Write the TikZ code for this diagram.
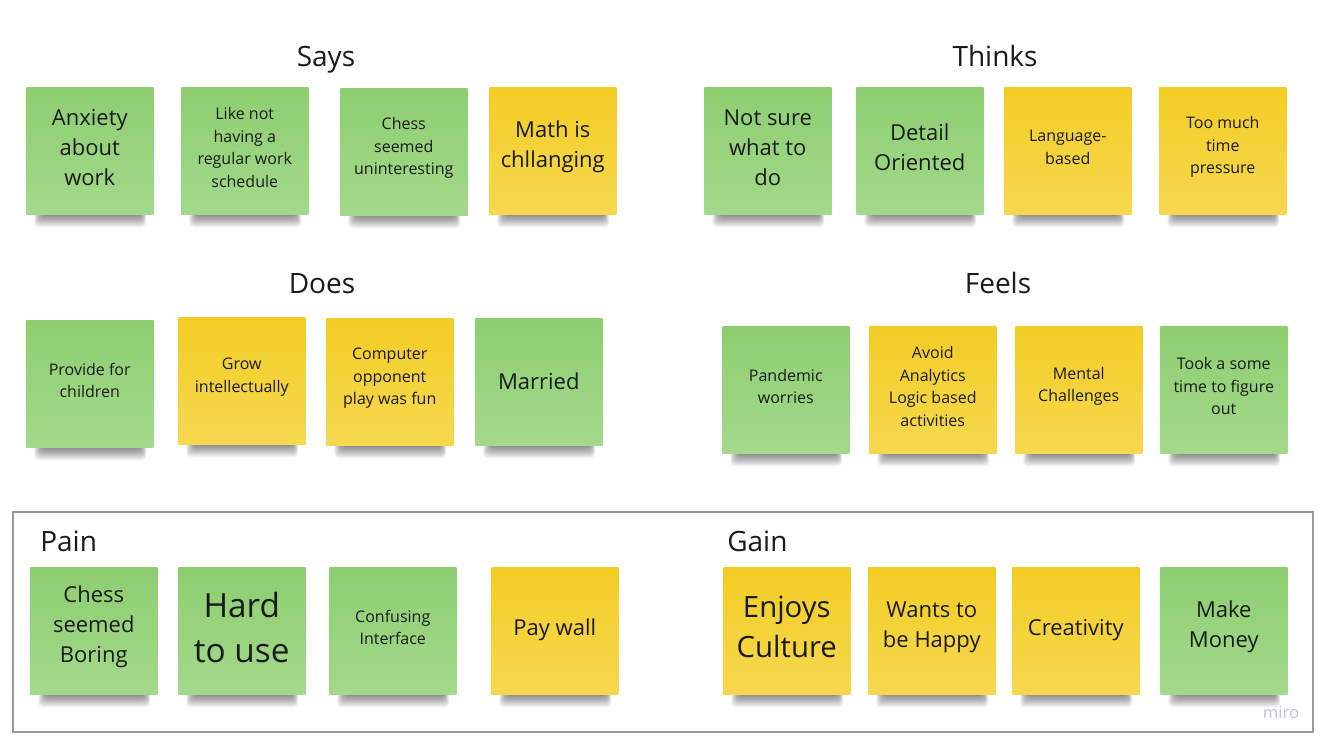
\documentclass[tikz,border=0pt]{standalone}
\usepackage{fontspec}
\setmainfont{Open Sans}
\usetikzlibrary{calc}

\definecolor{gtop}{HTML}{8DCE70}
\definecolor{gbot}{HTML}{A3D98B}
\definecolor{ytop}{HTML}{F3CD24}
\definecolor{ybot}{HTML}{F6D84F}
\definecolor{inkc}{HTML}{1A1A1A}
\definecolor{framec}{HTML}{9A9A9A}
\definecolor{miroc}{HTML}{C2C2D2}

\tikzset{
  note/.style={rectangle, minimum width=95.25pt, minimum height=95.25pt,
    inner sep=0pt, anchor=north west},
  greennote/.style={note, top color=gtop, bottom color=gbot},
  yellownote/.style={note, top color=ytop, bottom color=ybot},
  notetext/.style={inner sep=0pt, align=center, text=inkc},
  smalltxt/.style={font=\fontsize{12}{16.9}\selectfont},
  bigtxt/.style={font=\fontsize{16.5}{22.5}\selectfont},
  largetxt/.style={font=\fontsize{22}{30}\selectfont},
  hugetxt/.style={font=\fontsize{25}{34}\selectfont},
  header/.style={font=\fontsize{21}{25}\selectfont, text=inkc, inner sep=0pt, anchor=base},
}

% sticky note with a soft shadow under its lower edge
% #1 name, #2 x, #3 y (top left, px), #4 colour style, #5 text size style, #6 text
% #7 vertical nudge of the text (px)
\newcommand\sticky[7][-3.5]{%
  \foreach \k in {0,...,13}{%
    \fill[black, opacity=0.04, rounded corners=3pt]
      ({#3+16-0.6*\k},{#4+118}) rectangle ({#3+115+0.4*\k},{#4+128+0.95*\k});
  }%
  \node[#5] (#2) at (#3,#4) {};
  \node[notetext, #6] (#2-text) at ($(#2.center)+(0,#1)$) {#7};
}

\begin{document}
\begin{tikzpicture}[x=0.75pt, y=-0.75pt]
\useasboundingbox[fill=white] (0,0) rectangle (1333,749);

% group frame around pains and gains
\draw[framec, line width=1.1pt] (13,512) rectangle (1313,732);

% headings
\node[header] (says)   at (326,66)  {Says};
\node[header] (thinks) at (995,66)  {Thinks};
\node[header] (does)   at (322,293) {Does};
\node[header] (feels)  at (998,293) {Feels};
\node[header, anchor=base west] (pain) at (40,551)  {Pain};
\node[header, anchor=base west] (gain) at (727,551) {Gain};

% Says
\sticky{s1}{26}{87}{greennote}{bigtxt}{Anxiety\\about\\work}
\sticky{s2}{181}{87}{greennote}{smalltxt}{Like not\\having a\\regular work\\schedule}
\sticky{s3}{340}{88}{greennote}{smalltxt}{Chess\\seemed\\uninteresting}
\sticky{s4}{489}{87}{yellownote}{bigtxt}{Math is\\chllanging}

% Thinks
\sticky{t1}{704}{87}{greennote}{bigtxt}{Not sure\\what to\\do}
\sticky{t2}{856}{87}{greennote}{bigtxt}{Detail\\Oriented}
\sticky{t3}{1004}{87}{yellownote}{smalltxt}{Language-\\based}
\sticky{t4}{1159}{87}{yellownote}{smalltxt}{Too much\\time\\pressure}

% Does
\sticky{d1}{26}{320}{greennote}{smalltxt}{Provide for\\children}
\sticky{d2}{178}{317}{yellownote}{smalltxt}{Grow\\intellectually}
\sticky{d3}{326}{318}{yellownote}{smalltxt}{Computer\\opponent\\play was fun}
\sticky[-1]{d4}{475}{318}{greennote}{bigtxt}{Married}

% Feels
\sticky{f1}{722}{326}{greennote}{smalltxt}{Pandemic\\worries}
\sticky{f2}{869}{326}{yellownote}{smalltxt}{Avoid\\Analytics\\Logic based\\activities}
\sticky{f3}{1015}{326}{yellownote}{smalltxt}{Mental\\Challenges}
\sticky{f4}{1160}{326}{greennote}{smalltxt}{Took a some\\time to figure\\out}

% Pain
\sticky{p1}{30}{567}{greennote}{bigtxt}{Chess\\seemed\\Boring}
\sticky{p2}{178}{567}{greennote}{hugetxt}{Hard\\to use}
\sticky{p3}{329}{567}{greennote}{smalltxt}{Confusing\\Interface}
\sticky[-1]{p4}{491}{567}{yellownote}{bigtxt}{Pay wall}

% Gain
\sticky{g1}{723}{567}{yellownote}{largetxt}{Enjoys\\Culture}
\sticky{g2}{868}{567}{yellownote}{bigtxt}{Wants to\\be Happy}
\sticky[-1]{g3}{1012}{567}{yellownote}{bigtxt}{Creativity}
\sticky{g4}{1160}{567}{greennote}{bigtxt}{Make\\Money}

% board watermark
\node[text=miroc, font=\fontsize{12.5}{14}\selectfont, inner sep=0pt] (miro) at (1281,712) {miro};
\end{tikzpicture}
\end{document}
